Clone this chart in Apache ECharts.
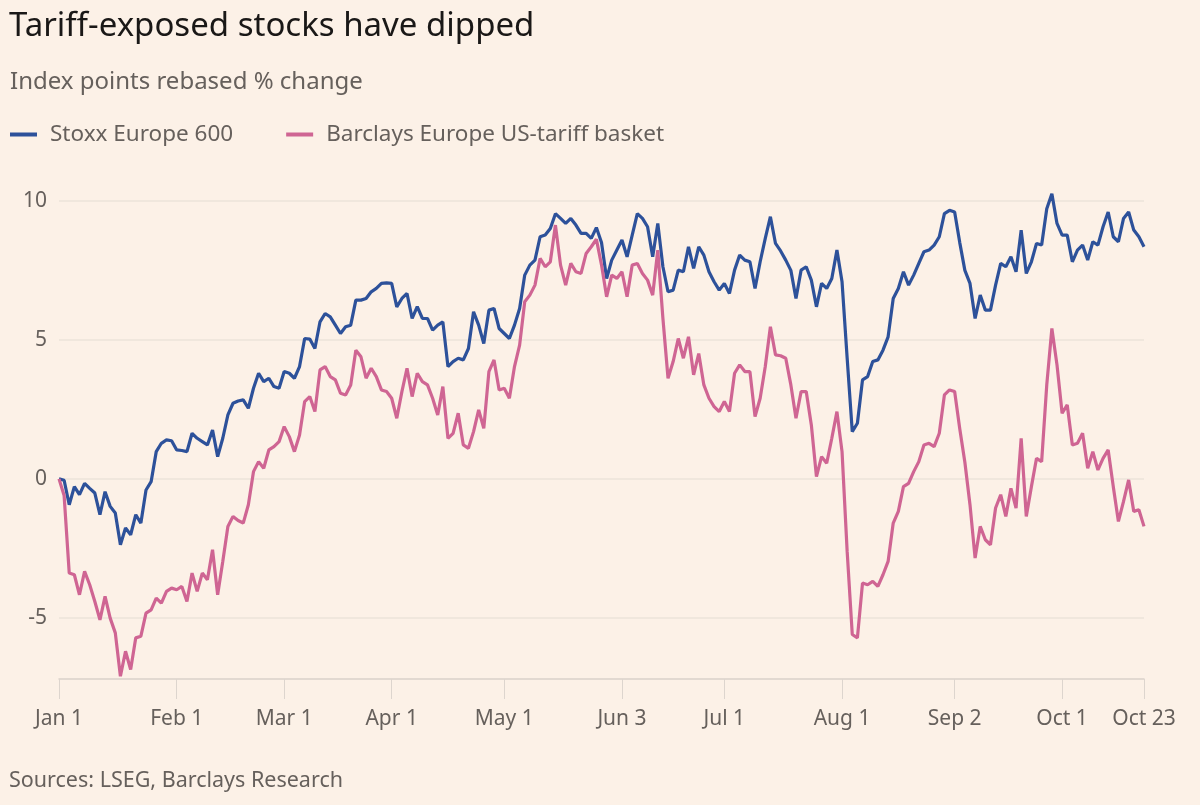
<!DOCTYPE html>
<html>
<head>
<meta charset="utf-8">
<script src="https://cdn.jsdelivr.net/npm/echarts@6/dist/echarts.min.js"></script>
<style>
  html, body { margin: 0; padding: 0; background: #fcf1e7; }
  #chart { width: 1200px; height: 805px; }
</style>
</head>
<body>
<div id="chart"></div>
<script>
// Tick labels shown on the x axis (first weekday of each month + last date)
const tickLabels = ['Jan 1','Feb 1','Mar 1','Apr 1','May 1','Jun 3','Jul 1','Aug 1','Sep 2','Oct 1','Oct 23'];
const yTickValues = [-5, 0, 5, 10];

// Categories: every weekday from Jan 1 to Oct 23 (2024)
const monthNames = ['Jan','Feb','Mar','Apr','May','Jun','Jul','Aug','Sep','Oct','Nov','Dec'];
const categories = [];
(function () {
  const d = new Date(Date.UTC(2024, 0, 1));
  const end = new Date(Date.UTC(2024, 9, 23));
  while (d <= end) {
    const wd = d.getUTCDay();
    if (wd !== 0 && wd !== 6) categories.push(monthNames[d.getUTCMonth()] + ' ' + d.getUTCDate());
    d.setUTCDate(d.getUTCDate() + 1);
  }
})();

// Stoxx Europe 600, rebased % change
const stoxx600 = [
  0.0, -0.05, -0.93, -0.28, -0.57, -0.16, -0.34, -0.51, -1.29, -0.46,
  -0.99, -1.23, -2.37, -1.77, -2.01, -1.29, -1.59, -0.40, -0.10, 0.98,
  1.28, 1.40, 1.37, 1.04, 1.02, 0.98, 1.64, 1.46, 1.34, 1.22,
  1.76, 0.80, 1.46, 2.30, 2.72, 2.80, 2.84, 2.54, 3.26, 3.80,
  3.50, 3.62, 3.32, 3.26, 3.86, 3.80, 3.62, 4.04, 5.05, 5.03,
  4.69, 5.65, 5.95, 5.83, 5.53, 5.23, 5.47, 5.53, 6.43, 6.43,
  6.49, 6.73, 6.85, 7.03, 7.05, 7.03, 6.19, 6.49, 6.67, 5.77,
  6.20, 5.77, 5.77, 5.35, 5.53, 5.65, 4.04, 4.22, 4.34, 4.28,
  4.69, 6.01, 5.53, 4.87, 6.07, 6.13, 5.41, 5.23, 5.05, 5.53,
  6.13, 7.33, 7.69, 7.87, 8.71, 8.77, 9.01, 9.54, 9.37, 9.19,
  9.37, 9.13, 8.83, 8.83, 8.65, 9.04, 8.50, 7.21, 7.87, 8.23,
  8.59, 7.99, 8.77, 9.54, 9.37, 9.07, 7.99, 9.19, 7.63, 6.73,
  6.79, 7.51, 7.45, 8.35, 7.57, 8.35, 8.05, 7.45, 7.09, 6.79,
  7.03, 6.67, 7.51, 8.05, 7.87, 7.81, 6.85, 7.81, 8.65, 9.43,
  8.47, 8.20, 7.87, 7.50, 6.49, 7.51, 7.63, 7.15, 6.19, 7.03,
  6.85, 7.21, 8.23, 7.09, 4.34, 1.70, 2.00, 3.56, 3.68, 4.22,
  4.28, 4.63, 5.11, 6.49, 6.85, 7.45, 6.97, 7.33, 7.75, 8.17,
  8.23, 8.41, 8.71, 9.54, 9.66, 9.60, 8.50, 7.50, 7.03, 5.77,
  6.61, 6.07, 6.07, 6.97, 7.75, 7.63, 7.99, 7.45, 8.95, 7.39,
  7.81, 8.47, 8.41, 9.72, 10.26, 9.19, 8.77, 8.77, 7.81, 8.23,
  8.41, 7.87, 8.53, 8.41, 9.07, 9.60, 8.71, 8.53, 9.37, 9.60,
  8.95, 8.71, 8.35
];

// Barclays Europe US-tariff basket, rebased % change
const tariffBasket = [
  0.0, -0.60, -3.39, -3.45, -4.17, -3.33, -3.81, -4.41, -5.07, -4.23,
  -5.01, -5.54, -7.10, -6.20, -6.86, -5.72, -5.66, -4.83, -4.71, -4.29,
  -4.47, -4.05, -3.93, -3.99, -3.87, -4.41, -3.39, -4.05, -3.39, -3.63,
  -2.55, -4.17, -2.97, -1.71, -1.35, -1.50, -1.59, -0.93, 0.26, 0.62,
  0.38, 1.04, 1.16, 1.34, 1.88, 1.52, 0.98, 1.58, 2.78, 2.96,
  2.42, 3.92, 4.04, 3.68, 3.56, 3.08, 3.02, 3.38, 4.63, 4.39,
  3.62, 3.98, 3.68, 3.20, 3.14, 2.90, 2.18, 3.14, 3.98, 2.96,
  3.80, 3.50, 3.38, 2.90, 2.30, 3.32, 1.46, 1.64, 2.36, 1.22,
  1.10, 1.70, 2.48, 1.82, 3.86, 4.28, 3.20, 3.26, 2.90, 4.04,
  4.81, 6.37, 6.61, 6.97, 7.93, 7.63, 7.81, 9.13, 7.69, 6.97,
  7.75, 7.45, 7.39, 8.11, 8.35, 8.62, 7.70, 6.55, 7.33, 7.21,
  7.45, 6.55, 7.69, 7.75, 7.39, 7.15, 6.61, 8.23, 5.77, 3.62,
  4.22, 5.05, 4.34, 5.11, 3.74, 4.51, 3.38, 2.90, 2.60, 2.42,
  2.78, 2.42, 3.80, 4.10, 3.86, 3.86, 2.24, 2.90, 4.04, 5.47,
  4.46, 4.43, 4.34, 3.38, 2.18, 3.14, 3.14, 1.94, 0.08, 0.80,
  0.56, 1.46, 2.42, 0.98, -2.61, -5.60, -5.72, -3.75, -3.81, -3.69,
  -3.87, -3.45, -2.97, -1.59, -1.17, -0.28, -0.16, 0.26, 0.62, 1.22,
  1.28, 1.16, 1.64, 3.02, 3.20, 3.14, 1.80, 0.60, -0.93, -2.85,
  -1.71, -2.19, -2.37, -1.05, -0.57, -1.35, -0.34, -1.05, 1.46, -1.35,
  -0.28, 0.74, 0.62, 3.38, 5.41, 4.10, 2.36, 2.66, 1.22, 1.28,
  1.64, 0.38, 0.98, 0.32, 0.74, 1.04, -0.28, -1.53, -0.81, -0.04,
  -1.17, -1.11, -1.71
];

const FONT = '"Noto Sans", "Open Sans", sans-serif';
const GREY = '#66605c';
const BLUE = '#2d519a';
const PINK = '#cf6593';

const chart = echarts.init(document.getElementById('chart'), null, { renderer: 'canvas' });
chart.setOption({
  backgroundColor: '#fcf1e7',
  animation: false,
  textStyle: { fontFamily: FONT },
  title: [
    { text: 'Tariff-exposed stocks have dipped', left: 9, top: 10, padding: 0,
      textStyle: { fontFamily: FONT, fontSize: 33, fontWeight: 'normal', color: '#1a1817' } },
    { text: 'Index points rebased % change', left: 10, top: 70, padding: 0,
      textStyle: { fontFamily: FONT, fontSize: 24, fontWeight: 'normal', color: GREY } },
    { text: 'Sources: LSEG, Barclays Research', left: 9, top: 770, padding: 0,
      textStyle: { fontFamily: FONT, fontSize: 21.5, fontWeight: 'normal', color: GREY } }
  ],
  legend: {
    left: 10, top: 123, padding: 0,
    icon: 'rect', itemWidth: 27, itemHeight: 4, itemGap: 53,
    textStyle: { fontFamily: FONT, fontSize: 22.5, color: GREY, padding: [0, 0, 0, 8] },
    data: ['Stoxx Europe 600', 'Barclays Europe US-tariff basket']
  },
  grid: { left: 59, right: 56, top: 187, bottom: 126 },
  xAxis: {
    type: 'category',
    data: categories,
    boundaryGap: false,
    axisLine: { onZero: false, lineStyle: { color: '#d9d1ca', width: 1.5 } },
    axisTick: {
      show: true, length: 20,
      interval: (idx, val) => tickLabels.includes(val),
      lineStyle: { color: '#ddd5ce', width: 1 }
    },
    axisLabel: {
      interval: (idx, val) => tickLabels.includes(val),
      margin: 30, color: GREY, fontSize: 21, fontFamily: FONT
    },
    splitLine: { show: false }
  },
  yAxis: {
    type: 'value',
    min: -7.2, max: 10.5, splitNumber: 4,
    axisLine: { show: false },
    axisTick: { show: false },
    axisLabel: {
      showMinLabel: false, showMaxLabel: false,
      margin: 12, color: GREY, fontSize: 21, fontFamily: FONT,
      formatter: v => (yTickValues.includes(v) ? String(v) : '')
    },
    splitLine: { show: true, showMinLine: false, showMaxLine: false,
      lineStyle: { color: '#ece3da', width: 1.5 } }
  },
  series: [
    { name: 'Stoxx Europe 600', type: 'line', data: stoxx600, showSymbol: false,
      itemStyle: { color: BLUE }, lineStyle: { color: BLUE, width: 3.2 } },
    { name: 'Barclays Europe US-tariff basket', type: 'line', data: tariffBasket, showSymbol: false,
      itemStyle: { color: PINK }, lineStyle: { color: PINK, width: 3.2 } }
  ]
});
</script>
</body>
</html>
